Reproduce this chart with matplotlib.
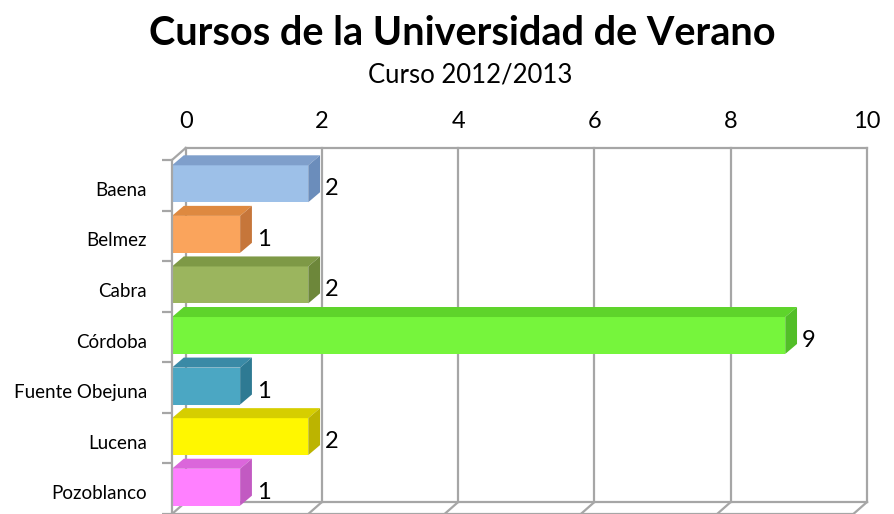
import matplotlib
matplotlib.use("Agg")
import matplotlib.pyplot as plt
from matplotlib.patches import Polygon
import numpy as np

# datos
sedes = ["Baena", "Belmez", "Cabra", "Córdoba", "Fuente Obejuna", "Lucena", "Pozoblanco"]
cursos = [2, 1, 2, 9, 1, 2, 1]
x_ticks = [0, 2, 4, 6, 8, 10]

# colores: frente, tapa, lateral
frente = ["#9DC0E8", "#FAA45C", "#9BB55E", "#76F53C", "#4BA7C3", "#FFF700", "#FF80FF"]
tapa = ["#7F9FCB", "#DE8940", "#7E9946", "#5ED42B", "#3A8AA6", "#D6CE00", "#DB66DB"]
lateral = ["#6B8DBB", "#C6763A", "#6D873A", "#52BE28", "#2E7A93", "#BCB400", "#C25AC2"]

plt.rcParams['font.family'] = ['Lato', 'DejaVu Sans']

fig = plt.figure(figsize=(8.95, 5.14), dpi=100)
W, H = 895, 514
ax = fig.add_axes([172 / W, 0 / H, 695 / W, 354 / H])
ax.set_xlim(0, 10)
ax.set_ylim(7, 0)
ax.patch.set_alpha(0)
for s in ax.spines.values():
    s.set_visible(False)

# profundidad de la pared y de las barras (en unidades de datos)
dx, dy = 0.2, 0.237
bx, by = 0.173, 0.198
gris = "#A6A6A6"
n = len(sedes)

# pared del fondo y suelo
lw = 1.6
for v in x_ticks:
    ax.plot([v + dx, v + dx], [-dy, n - dy], color=gris, lw=lw, clip_on=False, zorder=1)
    ax.plot([v + dx, v], [n - dy, n], color=gris, lw=lw, clip_on=False, zorder=1)
ax.plot([dx, 10 + dx], [-dy, -dy], color=gris, lw=lw, clip_on=False, zorder=1)
ax.plot([dx, 10 + dx], [n - dy, n - dy], color=gris, lw=lw, clip_on=False, zorder=1)
ax.plot([0, 10], [n, n], color=gris, lw=lw, clip_on=False, zorder=1)
ax.plot([0, 0], [0, n], color=gris, lw=lw, clip_on=False, zorder=4)
ax.plot([0, dx], [0, -dy], color=gris, lw=lw, clip_on=False, zorder=1)

# barras 3D
alto = 0.73
centros = np.arange(n) + 0.47
ax.barh(centros, cursos, height=alto, color=frente, zorder=3)
for i, v in enumerate(cursos):
    y0 = centros[i] - alto / 2
    y1 = centros[i] + alto / 2
    ax.add_patch(Polygon([(0, y0), (v, y0), (v + bx, y0 - by), (bx, y0 - by)],
                         closed=True, fc=tapa[i], ec="none", zorder=3, clip_on=False))
    ax.add_patch(Polygon([(v, y0), (v + bx, y0 - by), (v + bx, y1 - by), (v, y1)],
                         closed=True, fc=lateral[i], ec="none", zorder=3, clip_on=False))
    ax.text(v + bx + 0.07, centros[i] + 0.1, str(v), ha="left", va="center",
            fontsize=17, color="black", zorder=5)

# ejes
ax.xaxis.tick_top()
ax.set_xticks(np.array(x_ticks) + dx)
ax.set_xticklabels([str(v) for v in x_ticks], fontsize=17)
ax.tick_params(axis="x", length=0, pad=20)

ax.set_yticks(centros + 0.1)
ax.set_yticklabels(sedes, fontsize=13.5)
ax.tick_params(axis="y", which="major", length=0, pad=18)
ax.set_yticks(np.arange(n + 1), minor=True)
ax.tick_params(axis="y", which="minor", length=7, width=1.6, color=gris)

fig.text(0.516, 0.934, "Cursos de la Universidad de Verano", ha="center", va="center",
         fontsize=28.5, fontweight="bold")
fig.text(0.525, 0.854, "Curso 2012/2013", ha="center", va="center", fontsize=18.5)

fig.savefig("out.png", dpi=100)
